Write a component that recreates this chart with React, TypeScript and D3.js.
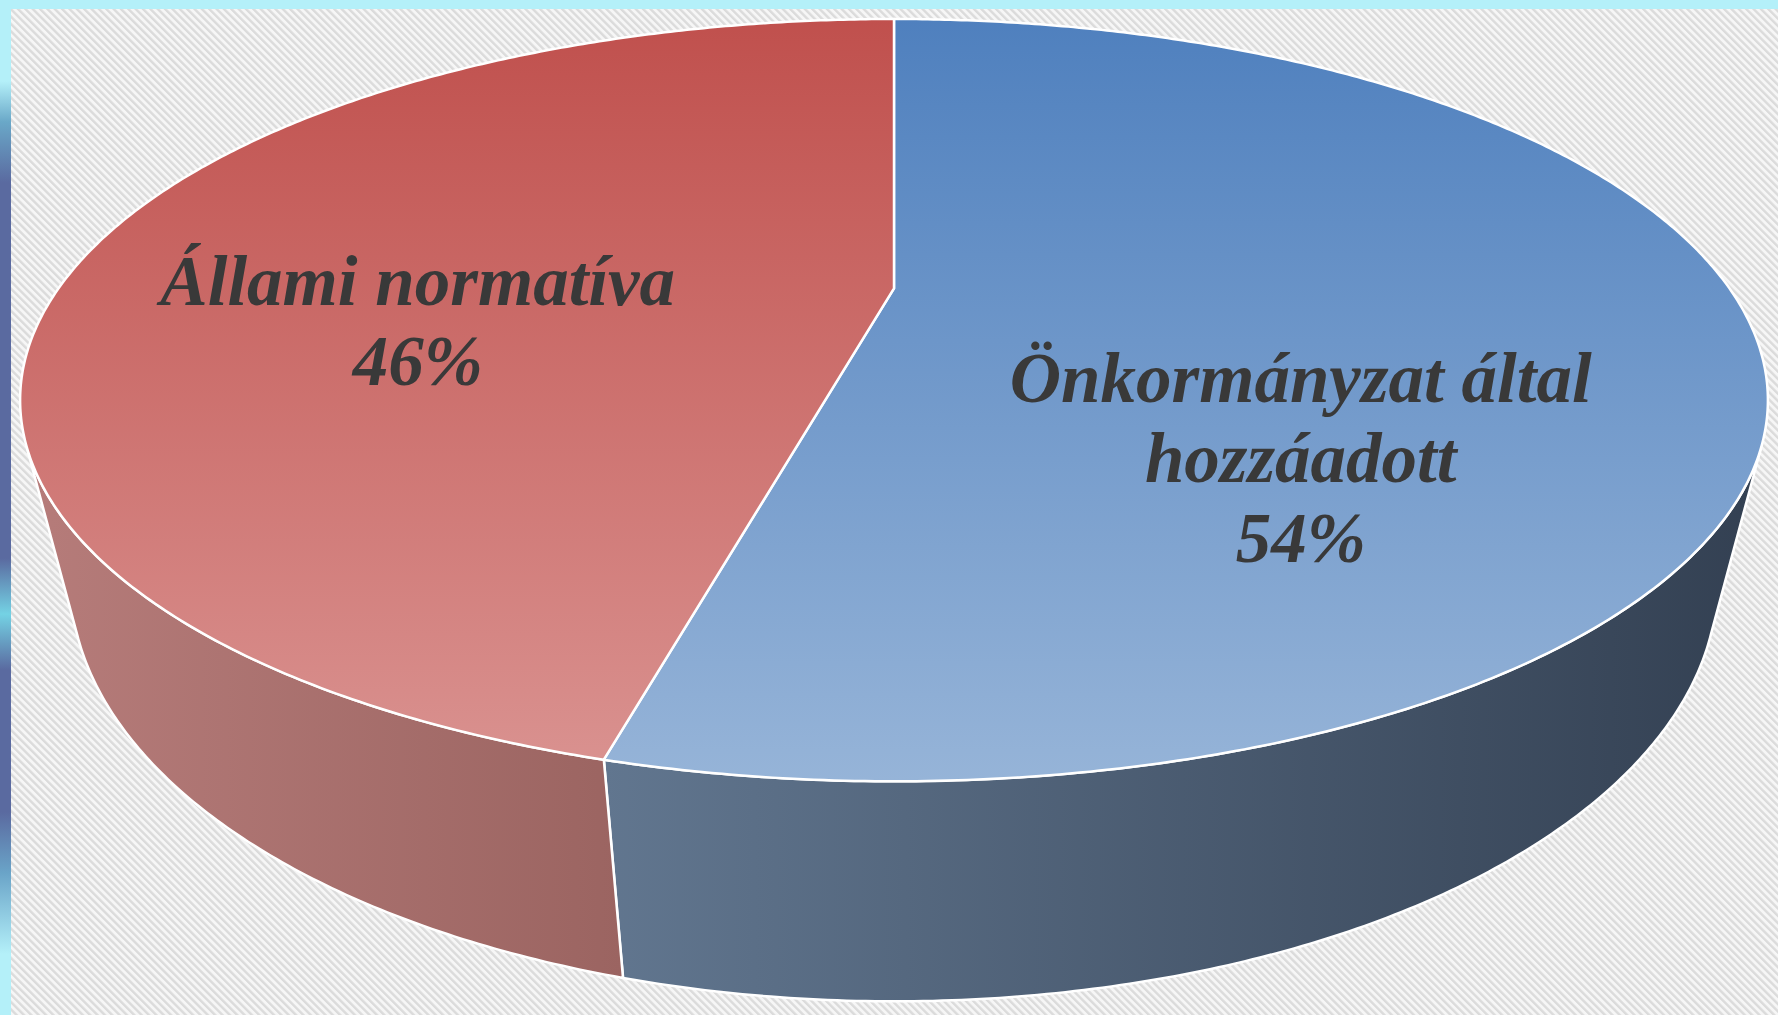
import React, { useEffect, useRef } from 'react'
import * as d3 from 'd3'

// slices, clockwise from 12 o'clock
const categories = ['Önkormányzat által hozzáadott', 'Állami normatíva']
const values = [54, 46]
const labelLines = [['Önkormányzat által', 'hozzáadott'], ['Állami normatíva']]

const topColors = [['#4f80be', '#96b4d8'], ['#c0504d', '#da9391']]
const sideColors = [['#61768f', '#334052'], ['#b67c7a', '#9b6461']]

const bandStops = [
  [0, '#b4f0f9'], [0.08, '#b4f0f9'], [0.12, '#6aa8c8'], [0.18, '#5a6aa0'],
  [0.55, '#5a6aa0'], [0.605, '#74d2e4'], [0.66, '#5a6aa0'], [0.8, '#5a6aa0'],
  [0.86, '#6aa4c8'], [0.94, '#b4f0f9'], [1, '#b4f0f9'],
]

export default function App() {
  const ref = useRef<SVGSVGElement>(null)

  useEffect(() => {
    document.body.style.margin = '0'
    const width = 1778
    const height = 1015
    const svg = d3.select(ref.current)
    svg.selectAll('*').remove()

    // camera for the 3D disc
    const x0 = 894, y0 = 288.4, f = 2590, dist = 3.1
    const sa = 0.417, ca = Math.sqrt(1 - sa * sa)
    const depthH = 0.2344
    const bottomShrink = 0.975
    const project = (t: number, r: number, z: number): [number, number] => {
      const X = r * Math.sin(t), Y = r * Math.cos(t)
      const depth = Y * ca - z * sa + dist
      const k = z < 0 ? bottomShrink : 1
      return [x0 + k * f * X / depth, y0 - f * (Y * sa + z * ca) / depth]
    }
    const rim = (a0: number, a1: number, z: number) => {
      const n = Math.max(2, Math.ceil((a1 - a0) / (Math.PI / 360)))
      return d3.range(n + 1).map(i => project(a0 + (a1 - a0) * i / n, 1, z))
    }
    // is the side wall facing us at angle t
    const facing = (t: number) => {
      const a = project(t, 1, 0), b = project(t + 0.001, 1, 0), c = project(t, 1, -depthH)
      return (b[0] - a[0]) * (c[1] - a[1]) - (b[1] - a[1]) * (c[0] - a[0]) < 0
    }

    const defs = svg.append('defs')
    const pat = defs.append('pattern')
      .attr('id', 'stripes').attr('patternUnits', 'userSpaceOnUse')
      .attr('width', 5.2).attr('height', 5.2)
      .attr('patternTransform', 'rotate(-45)')
    pat.append('rect').attr('width', 5.2).attr('height', 5.2).attr('fill', '#f6f6f6')
    pat.append('rect').attr('width', 2.4).attr('height', 5.2).attr('fill', '#dbdbdb')

    const band = defs.append('linearGradient').attr('id', 'band')
      .attr('x1', 0).attr('x2', 0).attr('y1', 0).attr('y2', 1)
    bandStops.forEach(s => band.append('stop').attr('offset', s[0]).attr('stop-color', s[1]))

    svg.append('rect').attr('width', width).attr('height', height).attr('fill', '#b4f0f9')
    svg.append('rect').attr('x', 11).attr('y', 9).attr('width', width - 11).attr('height', height - 9)
      .attr('fill', 'url(#stripes)')
    svg.append('rect').attr('x', 0).attr('y', 0).attr('width', 11).attr('height', height)
      .attr('fill', 'url(#band)')

    const arcs = d3.pie<number>().sort(null).startAngle(0).endAngle(2 * Math.PI)(values)
    const line = d3.line()
    const topY = project(0, 1, 0)[1]
    const botY = project(Math.PI, 1, 0)[1]

    const g = svg.append('g')

    // side walls
    arcs.forEach((a, i) => {
      const vis = d3.range(a.startAngle, a.endAngle, 0.002).concat([a.endAngle - 1e-4]).filter(facing)
      if (vis.length < 2) return
      const s0 = d3.min(vis)!, s1 = d3.max(vis)!
      const pts = rim(s0, s1, 0).concat(rim(s0, s1, -depthH).reverse())
      const xs = pts.map(p => p[0])
      const gr = defs.append('linearGradient').attr('id', 'side' + i)
        .attr('gradientUnits', 'userSpaceOnUse')
        .attr('x1', d3.min(xs)!).attr('x2', d3.max(xs)!).attr('y1', 0).attr('y2', 0)
      gr.append('stop').attr('offset', 0).attr('stop-color', sideColors[i][0])
      gr.append('stop').attr('offset', 1).attr('stop-color', sideColors[i][1])
      g.append('path')
        .attr('d', line(pts) + 'Z')
        .attr('fill', `url(#side${i})`)
        .attr('stroke', '#fff').attr('stroke-width', 2.5).attr('stroke-linejoin', 'round')
    })

    // top faces
    arcs.forEach((a, i) => {
      const gr = defs.append('linearGradient').attr('id', 'top' + i)
        .attr('gradientUnits', 'userSpaceOnUse')
        .attr('x1', 0).attr('x2', 0).attr('y1', topY).attr('y2', botY)
      gr.append('stop').attr('offset', 0).attr('stop-color', topColors[i][0])
      gr.append('stop').attr('offset', 1).attr('stop-color', topColors[i][1])
      const pts = [project(0, 0, 0)].concat(rim(a.startAngle, a.endAngle, 0))
      g.append('path')
        .attr('d', line(pts) + 'Z')
        .attr('fill', `url(#top${i})`)
        .attr('stroke', '#fff').attr('stroke-width', 2.5).attr('stroke-linejoin', 'round')
    })

    // data labels
    const labelR = [0.482, 0.587]
    const labelDy = [172, 82]
    const fontSize = 71
    arcs.forEach((a, i) => {
      const mid = (a.startAngle + a.endAngle) / 2
      const [lx, ly] = project(mid, labelR[i], 0)
      const lines = labelLines[i].concat([values[i] + '%'])
      const lh = fontSize * 1.13
      const first = ly + labelDy[i] - (lines.length - 1) * lh / 2
      const t = g.append('text')
        .attr('text-anchor', 'middle')
        .attr('font-family', '"Liberation Serif", "Times New Roman", serif')
        .attr('font-weight', 'bold').attr('font-style', 'italic')
        .attr('font-size', fontSize).attr('fill', '#393939')
      lines.forEach((l, k) => {
        t.append('tspan').attr('x', lx).attr('y', first + k * lh).text(l)
      })
      t.append('title').text(categories[i])
    })
  }, [])

  return (
    <svg ref={ref} width={1778} height={1015}
      style={{ position: 'absolute', left: 0, top: 0, display: 'block' }} />
  )
}
